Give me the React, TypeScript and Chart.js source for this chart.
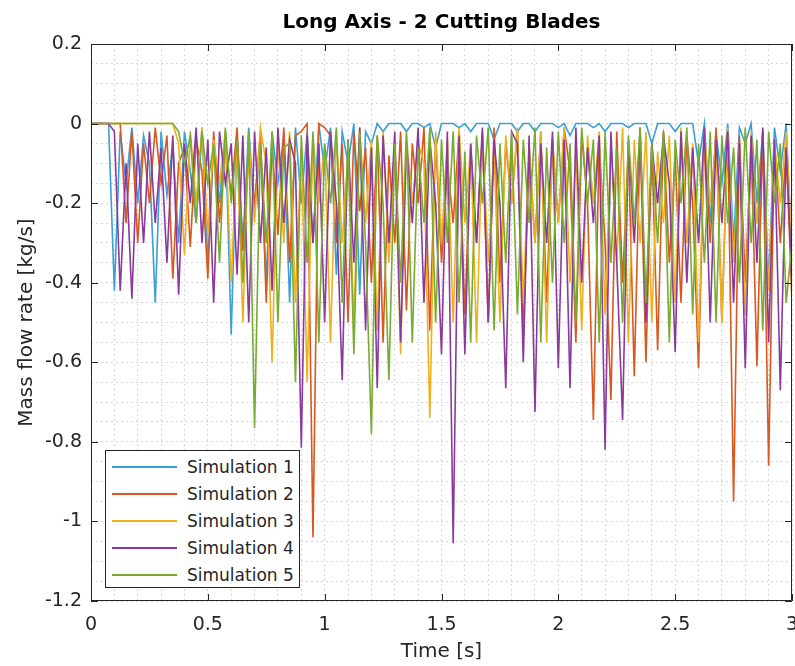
import React, { useEffect, useRef } from "react";
import { Chart, registerables } from "chart.js";

Chart.register(...registerables);

const TITLE = "Long Axis - 2 Cutting Blades";
const X_TITLE = "Time [s]";
const Y_TITLE = "Mass flow rate [kg/s]";

const SERIES_NAMES = ["Simulation 1", "Simulation 2", "Simulation 3", "Simulation 4", "Simulation 5"];
const SERIES_COLORS = ["#3a9fd8", "#d9581f", "#edb120", "#8a3a9c", "#77ac30"];

const X_TICK_LABELS = [0, 0.5, 1, 1.5, 2, 2.5, 3];
const Y_TICK_LABELS = [0.2, 0, -0.2, -0.4, -0.6, -0.8, -1, -1.2];

const TIME = [
  0, 0.025, 0.05, 0.075, 0.1, 0.125, 0.15, 0.175, 0.2, 0.225,
  0.25, 0.275, 0.3, 0.325, 0.35, 0.375, 0.4, 0.425, 0.45, 0.475,
  0.5, 0.525, 0.55, 0.575, 0.6, 0.625, 0.65, 0.675, 0.7, 0.725,
  0.75, 0.775, 0.8, 0.825, 0.85, 0.875, 0.9, 0.925, 0.95, 0.975,
  1.0, 1.025, 1.05, 1.075, 1.1, 1.125, 1.15, 1.175, 1.2, 1.225,
  1.25, 1.275, 1.3, 1.325, 1.35, 1.375, 1.4, 1.425, 1.45, 1.475,
  1.5, 1.525, 1.55, 1.575, 1.6, 1.625, 1.65, 1.675, 1.7, 1.725,
  1.75, 1.775, 1.8, 1.825, 1.85, 1.875, 1.9, 1.925, 1.95, 1.975,
  2.0, 2.025, 2.05, 2.075, 2.1, 2.125, 2.15, 2.175, 2.2, 2.225,
  2.25, 2.275, 2.3, 2.325, 2.35, 2.375, 2.4, 2.425, 2.45, 2.475,
  2.5, 2.525, 2.55, 2.575, 2.6, 2.625, 2.65, 2.675, 2.7, 2.725,
  2.75, 2.775, 2.8, 2.825, 2.85, 2.875, 2.9, 2.925, 2.95, 2.975,
  3.0,
];

const SIM1 = [
  0, 0, 0, 0, -0.42, -0.02, -0.15, -0.01, -0.2, -0.03,
  -0.1, -0.45, -0.02, -0.18, -0.05, -0.3, -0.02, -0.12, -0.25, -0.01,
  -0.35, -0.05, -0.2, -0.02, -0.53, -0.03, -0.3, -0.01, -0.22, -0.06,
  -0.4, -0.02, -0.15, -0.03, -0.45, -0.01, -0.2, -0.02, -0.3, 0,
  -0.12, -0.01, -0.38, -0.02, -0.1, 0, -0.43, -0.02, -0.05, 0,
  -0.02, 0, 0, 0, -0.02, 0, 0, -0.01, 0, -0.06,
  0, 0, 0, -0.01, 0, -0.02, 0, 0, 0, -0.04,
  0, 0, 0, -0.02, 0, 0, -0.02, 0, 0, 0,
  -0.01, 0, -0.03, 0, 0, 0, -0.01, 0, -0.02, 0,
  0, 0, -0.01, 0, 0, 0, -0.05, 0, 0, 0,
  -0.02, 0, 0, 0, -0.1, 0, -0.25, -0.02, -0.15, 0,
  -0.3, -0.01, -0.05, 0, -0.2, -0.02, -0.4, -0.01, -0.12, 0,
  -0.35,
];

const SIM2 = [
  0, 0, 0, 0, 0, 0, -0.25, -0.02, -0.3, -0.05,
  -0.2, -0.01, -0.15, -0.03, -0.39, -0.1, -0.06, -0.31, -0.04, -0.12,
  -0.39, -0.02, -0.25, -0.05, -0.18, -0.01, -0.32, -0.08, -0.2, -0.02,
  -0.45, -0.05, -0.28, -0.01, -0.35, -0.03, -0.02, 0, -1.04, 0,
  -0.01, -0.03, -0.3, -0.05, -0.5, -0.02, -0.22, -0.06, -0.4, -0.03,
  -0.55, -0.08, -0.3, -0.02, -0.47, -0.05, -0.2, -0.01, -0.52, -0.04,
  -0.35, -0.1, -0.25, -0.02, -0.48, -0.06, -0.3, -0.03, -0.5, -0.01,
  -0.4, -0.05, -0.2, -0.02, -0.53, -0.07, -0.3, -0.02, -0.45, -0.04,
  -0.25, -0.01, -0.12, -0.55, -0.03, -0.2, -0.745, -0.05, -0.3, -0.695,
  -0.02, -0.4, -0.06, -0.635, -0.03, -0.6, -0.05, -0.57, -0.02, -0.35,
  -0.08, -0.45, -0.03, -0.2, -0.615, -0.04, -0.3, -0.01, -0.5, -0.02,
  -0.95, -0.03, -0.4, -0.05, -0.61, -0.02, -0.86, -0.04, -0.3, -0.06,
  -0.45,
];

const SIM3 = [
  0, 0, 0, 0, 0, 0, 0, 0, 0, 0,
  0, 0, 0, 0, 0, -0.05, -0.33, -0.02, -0.2, -0.01,
  -0.28, -0.04, -0.15, -0.02, -0.4, -0.05, -0.5, -0.03, -0.25, -0.01,
  -0.1, -0.6, -0.04, -0.3, -0.02, -0.45, -0.06, -0.65, -0.03, -0.2,
  -0.05, -0.55, -0.02, -0.3, -0.08, -0.5, -0.01, -0.25, -0.04, -0.52,
  -0.02, -0.35, -0.06, -0.58, -0.03, -0.2, -0.05, -0.1, -0.74, -0.02,
  -0.3, -0.04, -0.5, -0.01, -0.25, -0.05, -0.55, -0.02, -0.35, -0.07,
  -0.5, -0.03, -0.2, -0.01, -0.45, -0.05, -0.3, -0.02, -0.55, -0.04,
  -0.25, -0.01, -0.4, -0.06, -0.52, -0.03, -0.2, -0.02, -0.48, -0.05,
  -0.35, -0.01, -0.55, -0.04, -0.3, -0.02, -0.5, -0.07, -0.25, -0.03,
  -0.45, -0.01, -0.3, -0.05, -0.55, -0.02, -0.2, -0.04, -0.5, -0.01,
  -0.35, -0.06, -0.48, -0.02, -0.25, -0.03, -0.42, -0.05, -0.2, -0.02,
  -0.3,
];

const SIM4 = [
  0, 0, 0, 0, -0.02, -0.42, -0.1, -0.44, -0.05, -0.3,
  -0.02, -0.25, -0.06, -0.35, -0.03, -0.43, -0.05, -0.2, -0.01, -0.3,
  -0.04, -0.45, -0.02, -0.15, -0.05, -0.38, -0.03, -0.5, -0.02, -0.3,
  -0.06, -0.42, -0.01, -0.25, -0.04, -0.1, -0.815, -0.03, -0.3, -0.05,
  -0.5, -0.02, -0.2, -0.645, -0.04, -0.35, -0.01, -0.52, -0.06, -0.665,
  -0.03, -0.3, -0.02, -0.55, -0.05, -0.25, -0.01, -0.45, -0.04, -0.2,
  -0.58, -0.02, -1.055, -0.03, -0.58, -0.05, -0.3, -0.01, -0.5, -0.04,
  -0.2, -0.665, -0.02, -0.05, -0.6, -0.03, -0.725, -0.05, -0.3, -0.02,
  -0.615, -0.04, -0.665, -0.01, -0.4, -0.06, -0.25, -0.03, -0.82, -0.02,
  -0.35, -0.745, -0.04, -0.3, -0.01, -0.5, -0.05, -0.2, -0.03, -0.15,
  -0.575, -0.02, -0.4, -0.06, -0.3, -0.01, -0.5, -0.04, -0.25, -0.02,
  -0.45, -0.05, -0.615, -0.03, -0.35, -0.01, -0.55, -0.04, -0.67, -0.06,
  -0.4,
];

const SIM5 = [
  0, 0, 0, 0, 0, 0, 0, 0, 0, 0,
  0, 0, 0, 0, 0, -0.02, -0.1, -0.03, -0.25, -0.02,
  -0.15, -0.05, -0.35, -0.01, -0.2, -0.04, -0.4, -0.02, -0.765, -0.05,
  -0.3, -0.02, -0.5, -0.06, -0.05, -0.65, -0.03, -0.35, -0.02, -0.55,
  -0.05, -0.2, -0.01, -0.45, -0.04, -0.58, -0.02, -0.3, -0.78, -0.03,
  -0.2, -0.645, -0.05, -0.4, -0.02, -0.55, -0.06, -0.25, -0.01, -0.5,
  -0.04, -0.3, -0.02, -0.45, -0.07, -0.55, -0.03, -0.2, -0.01, -0.52,
  -0.05, -0.35, -0.02, -0.48, -0.04, -0.25, -0.01, -0.55, -0.06, -0.4,
  -0.02, -0.3, -0.05, -0.5, -0.01, -0.2, -0.04, -0.55, -0.02, -0.35,
  -0.06, -0.5, -0.03, -0.25, -0.01, -0.45, -0.05, -0.3, -0.02, -0.55,
  -0.04, -0.2, -0.01, -0.48, -0.05, -0.35, -0.02, -0.5, -0.03, -0.25,
  -0.06, -0.4, -0.01, -0.3, -0.04, -0.52, -0.02, -0.2, -0.05, -0.45,
  -0.3,
];

const SERIES_VALUES = [SIM1, SIM2, SIM3, SIM4, SIM5];

const FONT = "'DejaVu Sans', 'Liberation Sans', Arial, sans-serif";
const TEXT_COLOR = "#262626";

const framePlugin = {
  id: "matlabFrame",
  afterDatasetsDraw(chart: any) {
    const { ctx, chartArea, scales } = chart;
    const { left, right, top, bottom } = chartArea;
    const x = scales.x;
    const y = scales.y;
    ctx.save();
    ctx.strokeStyle = TEXT_COLOR;
    ctx.lineWidth = 1;
    ctx.beginPath();
    ctx.rect(Math.round(left) + 0.5, Math.round(top) + 0.5, Math.round(right - left) - 1, Math.round(bottom - top) - 1);
    ctx.stroke();
    const tl = 7;
    ctx.beginPath();
    X_TICK_LABELS.forEach((v) => {
      const px = Math.round(x.getPixelForValue(v)) + 0.5;
      ctx.moveTo(px, bottom);
      ctx.lineTo(px, bottom - tl);
      ctx.moveTo(px, top);
      ctx.lineTo(px, top + tl);
    });
    Y_TICK_LABELS.forEach((v) => {
      const py = Math.round(y.getPixelForValue(v)) + 0.5;
      ctx.moveTo(left, py);
      ctx.lineTo(left + tl, py);
      ctx.moveTo(right, py);
      ctx.lineTo(right - tl, py);
    });
    ctx.stroke();
    ctx.restore();
  },
};

function isMajor(v: number, step: number) {
  const r = Math.round(v * 1000) / 1000;
  const q = r / step;
  return Math.abs(q - Math.round(q)) < 1e-6;
}

function fmt(v: number) {
  const r = Math.round(v * 1000) / 1000;
  return String(r === 0 ? 0 : r);
}

export default function App() {
  const canvasRef = useRef<HTMLCanvasElement | null>(null);

  useEffect(() => {
    if (!canvasRef.current) return;
    const datasets = SERIES_NAMES.map((name, i) => ({
      label: name,
      data: TIME.map((t, k) => ({ x: t, y: SERIES_VALUES[i][k] })),
      borderColor: SERIES_COLORS[i],
      backgroundColor: SERIES_COLORS[i],
      borderWidth: 1.6,
      pointRadius: 0,
      tension: 0,
      fill: false,
      order: SERIES_NAMES.length - i,
    }));

    const chart = new Chart(canvasRef.current, {
      type: "line",
      data: { datasets },
      plugins: [framePlugin],
      options: {
        animation: false,
        responsive: false,
        devicePixelRatio: 1,
        layout: { padding: { left: 0, right: 3, top: 0, bottom: 0 } },
        plugins: {
          legend: { display: false },
          tooltip: { enabled: false },
          title: {
            display: true,
            text: TITLE,
            fullSize: false,
            color: "#000",
            font: { family: FONT, size: 20, weight: "bold", lineHeight: 1.2 },
            padding: { top: 11, bottom: 9 },
          },
        },
        scales: {
          x: {
            type: "linear",
            min: 0,
            max: 3,
            border: { display: false, dash: [2, 3] },
            grid: { color: "#d6d6d6", lineWidth: 1, drawTicks: false },
            ticks: {
              stepSize: 0.1,
              autoSkip: false,
              maxRotation: 0,
              padding: 13,
              color: TEXT_COLOR,
              font: { family: FONT, size: 19 },
              callback: (v: any) => (isMajor(Number(v), 0.5) ? fmt(Number(v)) : ""),
            },
            title: {
              display: true,
              text: X_TITLE,
              color: TEXT_COLOR,
              font: { family: FONT, size: 20, lineHeight: 1.2 },
              padding: { top: 0, bottom: 2 },
            },
            afterFit: (s: any) => {
              s.height = 65;
              s.paddingLeft = 0;
              s.paddingRight = 0;
            },
          },
          y: {
            type: "linear",
            min: -1.2,
            max: 0.2,
            border: { display: false, dash: [2, 3] },
            grid: { color: "#d6d6d6", lineWidth: 1, drawTicks: false },
            ticks: {
              stepSize: 0.05,
              autoSkip: false,
              padding: 9,
              color: TEXT_COLOR,
              font: { family: FONT, size: 19 },
              callback: (v: any) => (isMajor(Number(v), 0.2) ? fmt(Number(v)) : ""),
            },
            title: {
              display: true,
              text: Y_TITLE,
              color: TEXT_COLOR,
              font: { family: FONT, size: 20, lineHeight: 1.2 },
              padding: { top: 15, bottom: 0 },
            },
            afterFit: (s: any) => {
              s.width = 91;
              s.paddingTop = 0;
              s.paddingBottom = 0;
            },
          },
        },
      } as any,
    });
    return () => chart.destroy();
  }, []);

  const legendTop = 450;
  const legendLeft = 105;

  return (
    <div style={{ position: "absolute", left: 0, top: 0, width: 795, height: 666, background: "#fff" }}>
      <canvas ref={canvasRef} width={795} height={666} style={{ display: "block" }} />
      <div
        style={{
          position: "absolute",
          left: legendLeft,
          top: legendTop,
          width: 195,
          height: 138,
          border: "1px solid #262626",
          background: "#fff",
          boxSizing: "border-box",
          fontFamily: FONT,
          fontSize: 17,
          color: TEXT_COLOR,
        }}
      >
        {SERIES_NAMES.map((name, i) => (
          <div key={name} style={{ position: "absolute", left: 0, top: 17 + 27 * i - 1, width: "100%", height: 0 }}>
            <div
              style={{
                position: "absolute",
                left: 6,
                top: -1,
                width: 65,
                height: 2,
                background: SERIES_COLORS[i],
              }}
            />
            <div
              style={{
                position: "absolute",
                left: 81,
                top: -11,
                lineHeight: "22px",
                whiteSpace: "nowrap",
              }}
            >
              {name}
            </div>
          </div>
        ))}
      </div>
    </div>
  );
}
